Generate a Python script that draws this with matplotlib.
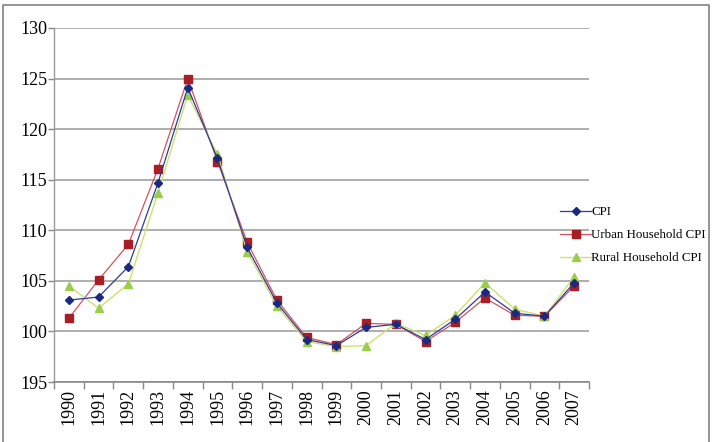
import matplotlib
matplotlib.use("Agg")
import matplotlib.pyplot as plt
from matplotlib.lines import Line2D
from matplotlib.ticker import FixedLocator, FixedFormatter

years = ["1990", "1991", "1992", "1993", "1994", "1995", "1996", "1997", "1998",
         "1999", "2000", "2001", "2002", "2003", "2004", "2005", "2006", "2007"]
cpi = [103.1, 103.4, 106.4, 114.7, 124.1, 117.1, 108.3, 102.8, 99.2,
       98.6, 100.4, 100.7, 99.2, 101.2, 103.9, 101.8, 101.5, 104.8]
urban = [101.3, 105.1, 108.6, 116.1, 125.0, 116.8, 108.8, 103.1, 99.4,
         98.7, 100.8, 100.7, 99.0, 100.9, 103.3, 101.6, 101.5, 104.5]
rural = [104.5, 102.3, 104.7, 113.7, 123.4, 117.5, 107.9, 102.5, 99.0,
         98.5, 98.6, 100.8, 99.6, 101.6, 104.8, 102.2, 101.5, 105.4]
y_ticks = [95, 100, 105, 110, 115, 120, 125, 130]
y_labels = ["195", "100", "105", "110", "115", "120", "125", "130"]

plt.rcParams['font.family'] = ['Liberation Serif', 'DejaVu Serif']

fig = plt.figure(figsize=(7.14, 4.42), dpi=100)
ax = fig.add_axes([54/714, 1-382/442, (589-54)/714, (382-28)/442])

x = list(range(len(years)))
ax.plot(x, cpi, color="#2B3C9A", lw=0.9, marker="D", ms=4.5,
        mfc="#1B2A80", mec="#1B2A80", label="CPI", zorder=4)
ax.plot(x, urban, color="#D9505E", lw=0.9, marker="s", ms=6,
        mfc="#A81E24", mec="#A81E24", label="Urban Household CPI", zorder=3)
ax.plot(x, rural, color="#CDE26A", lw=1.0, marker="^", ms=6,
        mfc="#9ACD4A", mec="#9ACD4A", label="Rural Household CPI", zorder=3.5)

ax.set_xlim(-0.5, len(years) - 0.5)
ax.set_ylim(95, 130)
ax.yaxis.set_major_locator(FixedLocator(y_ticks))
ax.yaxis.set_major_formatter(FixedFormatter(y_labels))
ax.set_xticks(x)
ax.set_xticklabels(years, rotation=90, fontsize=13)
ax.set_xticks([i - 0.5 for i in range(len(years) + 1)], minor=True)
ax.tick_params(axis='x', which='major', length=0, pad=5)
ax.tick_params(axis='x', which='minor', length=5, width=1, color="#888888", direction='out')
ax.tick_params(axis='y', which='major', length=4, width=1, color="#888888",
               labelsize=13, pad=1)

ax.grid(axis='y', color="#A8A8A8", lw=1.3)
ax.set_axisbelow(True)
for s in ['top', 'right']:
    ax.spines[s].set_visible(False)
ax.spines['bottom'].set_color("#888888")
ax.spines['bottom'].set_linewidth(1.2)
ax.spines['left'].set_color("#999999")
ax.spines['left'].set_linewidth(1.0)
ax.spines['left'].set_linestyle((0, (1, 1)))

leg = fig.legend(loc='upper left', bbox_to_anchor=(555/714, 1-201/442),
                 frameon=False, fontsize=9.3, handlelength=2.4, handletextpad=0.0,
                 labelspacing=0.85, borderaxespad=0)

# outer frame of the picture (left, top, right edges)
xl, xr, yt = 2.5/714, 708.5/714, 1 - 4.5/442
fig.add_artist(Line2D([xl, xl, xr, xr], [0, yt, yt, 0], transform=fig.transFigure,
                      color="#8C8C8C", lw=1.3))

fig.savefig("out.png", dpi=100)
